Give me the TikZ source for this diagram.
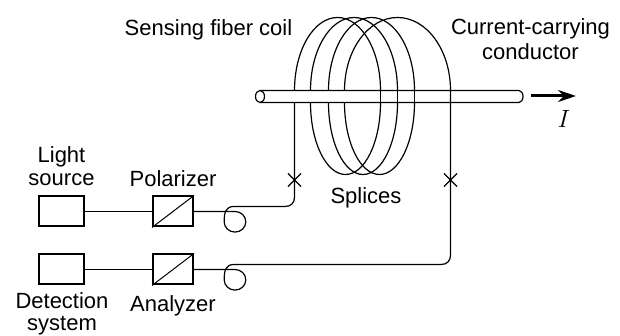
\documentclass[tikz,border=0pt]{standalone}
\usepackage{fontspec}
\setmainfont{Liberation Sans}
\usepackage{tikz}
\usetikzlibrary{arrows.meta,calc,positioning,shapes.misc}

\begin{document}
\begin{tikzpicture}[>=Stealth,x=1pt,y=1pt,
  fiber/.style={line width=1.2pt},
  srcbox/.style={draw,line width=2pt,minimum width=45pt,minimum height=30pt,inner sep=0pt},
  polbox/.style={draw,line width=2pt,minimum width=40pt,minimum height=30pt,inner sep=0pt},
  splice/.style={cross out,draw,line width=1.1pt,minimum size=12pt,inner sep=0pt},
  lbl/.style={font=\fontsize{22}{22.5}\selectfont,align=center,inner sep=0pt}]
\useasboundingbox (0,0) rectangle (620,336);
% conductor
\draw[fiber,fill=white] (260,245.5)--(519,245.5) arc[start angle=90,end angle=-90,x radius=4,y radius=6]--(260,233.5);
\draw[fiber,fill=white] (260,239.5) ellipse[x radius=4.5,y radius=6];
\draw[line width=3pt,-{Stealth[length=18pt,width=12pt]}] (530.5,240)--(576,240);
\node[font=\fontsize{23}{26}\selectfont\rmfamily\itshape,inner sep=0pt] (curr) at (564,217) {$I$};
% coil
\foreach \xa/\xb in {294.5/380.5,310.5/397.5,328.5/414.5,344.5/450.5}{
  \pgfmathsetmacro{\rx}{(\xb-\xa)/2}
  \draw[fiber] (\xa,245.5) arc[start angle=180,end angle=0,x radius=\rx,y radius=73];
}
\foreach \xa/\xb in {310.5/380.5,328.5/397.5,344.5/414.5}{
  \pgfmathsetmacro{\rx}{(\xb-\xa)/2}
  \draw[fiber] (\xa,233.5) arc[start angle=180,end angle=360,x radius=\rx,y radius=72];
}
\foreach \xx in {380.5,397.5,414.5}
  \draw[fiber] (\xx,245.5)--(\xx,233.5);
% boxes
\node[srcbox] (lsbox) at (61.3,124.5) {};
\node[polbox] (pzbox) at (173,124.5) {};
\node[srcbox] (dtbox) at (61.3,66.5) {};
\node[polbox] (anbox) at (173,66.5) {};
\draw[line width=1pt] (pzbox.south west)--(pzbox.north east);
\draw[line width=1pt] (anbox.south west)--(anbox.north east);
\draw[fiber] (lsbox)--(pzbox);
\draw[fiber] (dtbox)--(anbox);
% fibers
\draw[fiber] (pzbox.east)--(235,124.5) arc[start angle=90,end angle=-180,x radius=10.8,y radius=10.3]
  .. controls (224.2,124.5) and (226,129.5) .. (234,129.5)--(285,129.5)
  .. controls (291,129.5) and (294.5,133) .. (294.5,139)--(294.5,233.5);
\draw[fiber] (anbox.east)--(235,66.5) arc[start angle=90,end angle=-180,x radius=10.8,y radius=10.3]
  .. controls (224.2,66.5) and (226,71.5) .. (234,71.5)--(441,71.5)
  .. controls (447,71.5) and (450.5,75) .. (450.5,81)--(450.5,245.5);
\node[splice] (spla) at (294.5,156) {};
\node[splice] (splb) at (450.5,156) {};
% labels
\node[lbl] (coil) at (208.5,306.5) {Sensing fiber coil};
\node[lbl] (cond) at (530.5,297) {Current-carrying\\[2pt]conductor};
\node[lbl] (lsrc) at (61.5,170) {Light\\source};
\node[lbl] (pol) at (173,157.5) {Polarizer};
\node[lbl] (spl) at (366,138.5) {Splices};
\node[lbl] (det) at (62,22) {Detection\\system};
\node[lbl] (ana) at (173,30) {Analyzer};
\end{tikzpicture}
\end{document}
